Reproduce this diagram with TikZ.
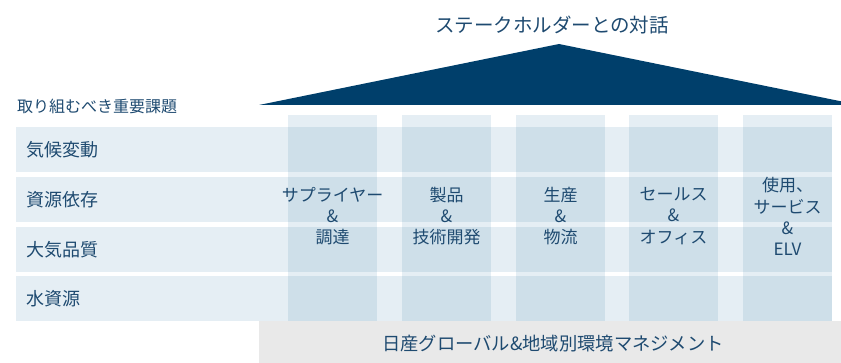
\documentclass[tikz,border=0pt]{standalone}
\usepackage{fontspec}
\setmainfont{Noto Sans CJK JP}
\definecolor{roofblue}{HTML}{003F6B}
\definecolor{txtblue}{HTML}{1E4A70}
\definecolor{rowfill}{HTML}{E5EEF4}
\definecolor{overfill}{HTML}{CEDFE9}
\definecolor{basegray}{HTML}{E9E9E9}
\tikzset{
  rowbox/.style={fill=rowfill, draw=none},
  colbox/.style={fill=rowfill, draw=none},
  overbox/.style={fill=overfill, draw=none},
  rowlabel/.style={anchor=west, inner sep=0pt, text=txtblue, font=\fontsize{18}{22}\selectfont},
  coltext/.style={inner sep=0pt, text=txtblue, align=center, font=\fontsize{17}{21.3}\selectfont},
}
\begin{document}
\begin{tikzpicture}[x=1pt,y=-1pt]
\useasboundingbox (0,0) rectangle (841,363);
% roof
\fill[roofblue] (259,105) -- (559,44) -- (841,101.3) -- (841,105) -- cycle;
\node[inner sep=0pt, text=txtblue, font=\fontsize{19.5}{22}\selectfont] (title) at (552,25) {ステークホルダーとの対話};
\node[anchor=west, inner sep=0pt, text=txtblue, font=\fontsize{16}{18}\selectfont] (issues) at (17,106) {取り組むべき重要課題};
% rows
\foreach \t/\b in {127/172,177/222,227/272,276/321}{
  \fill[rowbox] (16,\t) rectangle (832,\b);
}
% columns
\foreach \l in {288,402,516,629,743}{
  \fill[colbox] (\l,115) rectangle ({\l+89},321);
  \foreach \t/\b in {127/172,177/222,227/272,276/321}{
    \fill[overbox] (\l,\t) rectangle ({\l+89},\b);
  }
}
% base
\fill[basegray] (259,321) rectangle (841,363);
\node[inner sep=0pt, text=txtblue, font=\fontsize{18.3}{22}\selectfont] (base) at (553,344) {日産グローバル\&地域別環境マネジメント};
% row labels
\node[rowlabel] (r1) at (26,150) {気候変動};
\node[rowlabel] (r2) at (26,200) {資源依存};
\node[rowlabel] (r3) at (26,249.5) {大気品質};
\node[rowlabel] (r4) at (26,298.5) {水資源};
% column texts
\node[coltext] (c1) at (332.5,216) {サプライヤー\\\&\\調達};
\node[coltext] (c2) at (446.5,216) {製品\\\&\\技術開発};
\node[coltext] (c3) at (560.5,216) {生産\\\&\\物流};
\node[coltext] (c4) at (673.5,216) {セールス\\\&\\オフィス};
\node[coltext] (c5) at (787.5,216.5) {使用、\\サービス\\\&\\ELV};
\end{tikzpicture}
\end{document}
